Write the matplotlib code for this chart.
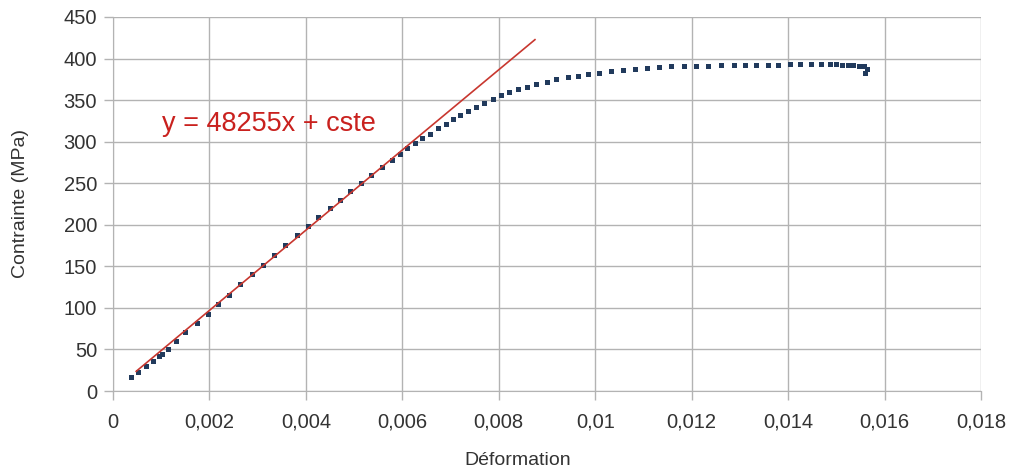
import matplotlib
matplotlib.use("Agg")
import matplotlib.pyplot as plt
import numpy as np
from matplotlib.ticker import FuncFormatter, MultipleLocator

plt.rcParams["font.family"] = ["Liberation Sans", "DejaVu Sans"]

# essai de traction : déformation / contrainte (MPa)
deformation = [
    0.00037, 0.00051, 0.00068, 0.00082, 0.00096, 0.00101, 0.00114, 0.00131,
    0.00150, 0.00174, 0.00196, 0.00218, 0.00240, 0.00264, 0.00288, 0.00310,
    0.00333, 0.00357, 0.00382, 0.00404, 0.00426, 0.00449, 0.00470, 0.00492,
    0.00515, 0.00536, 0.00557, 0.00578, 0.00596, 0.00610, 0.00626, 0.00641,
    0.00657, 0.00674, 0.00690, 0.00705, 0.00720, 0.00736, 0.00753, 0.00770,
    0.00787, 0.00804, 0.00822, 0.00839, 0.00859, 0.00878, 0.00899, 0.00919,
    0.00943, 0.00964, 0.00985, 0.01008, 0.01033, 0.01057, 0.01082, 0.01108,
    0.01133, 0.01158, 0.01184, 0.01209, 0.01233, 0.01261, 0.01287, 0.01311,
    0.01334, 0.01358, 0.01380, 0.01403, 0.01425, 0.01448, 0.01468, 0.01486,
    0.01499, 0.01511, 0.01524, 0.01535, 0.01547, 0.01558, 0.01563, 0.01560,
]
contrainte = [
    16.4, 22.8, 30.0, 36.4, 42.0, 44.4, 50.8, 60.0,
    70.4, 82.0, 93.2, 105.2, 116.0, 128.4, 140.4, 151.2,
    163.6, 175.6, 187.2, 198.4, 209.2, 219.6, 230.0, 240.4,
    250.4, 260.4, 269.6, 278.4, 285.2, 292.0, 298.3, 304.0,
    309.8, 316.4, 321.6, 326.8, 331.6, 337.2, 341.6, 346.8,
    351.2, 355.6, 359.2, 362.8, 366.0, 369.2, 372.0, 374.8,
    377.2, 379.6, 381.6, 383.2, 384.6, 386.2, 387.6, 388.8,
    389.7, 390.8, 391.2, 391.6, 391.6, 392.4, 392.4, 392.8,
    392.8, 392.8, 392.8, 393.2, 393.2, 393.6, 393.6, 394.0,
    393.2, 392.8, 392.4, 392.0, 391.6, 390.8, 387.2, 382.4,
]

# droite de régression sur la partie élastique
pente = 48255
cste = 0.5
x_droite = np.array([0.00048, 0.00875])

fig = plt.figure(figsize=(10.11, 4.72), dpi=100)
ax = fig.add_axes([0.1118, 0.1716, 0.8585, 0.7924])

ax.plot(deformation, contrainte, "s", color="#213a5c", markersize=3.6,
        markeredgewidth=0, zorder=3)
ax.plot(x_droite, pente * x_droite + cste, color="#c8372f", lw=1.2, zorder=4)

ax.text(0.00102, 321, "y = 48255x + cste", color="#c9211e", fontsize=19.5,
        va="center", ha="left")

ax.set_xlim(0, 0.018)
ax.set_ylim(0, 450)
ax.xaxis.set_major_locator(MultipleLocator(0.002))
ax.yaxis.set_major_locator(MultipleLocator(50))
ax.xaxis.set_major_formatter(FuncFormatter(lambda v, p: f"{round(v, 4):g}".replace(".", ",")))

ax.grid(True, color="#b3b3b3", lw=1)
ax.set_axisbelow(True)
for side in ["top", "right"]:
    ax.spines[side].set_visible(False)
for side in ["left", "bottom"]:
    ax.spines[side].set_color("#b3b3b3")
ax.tick_params(length=6.5, width=1, color="#b3b3b3", labelcolor="#333333",
               labelsize=14.5)
ax.tick_params(axis="y", pad=5)
ax.tick_params(axis="x", pad=9)

ax.set_xlabel("Déformation", fontsize=14, color="#333333")
ax.set_ylabel("Contrainte (MPa)", fontsize=14, color="#333333")
ax.xaxis.set_label_coords(0.466, -0.163)
ax.yaxis.set_label_coords(-0.097, 0.5)

fig.savefig("out.png", dpi=100)
